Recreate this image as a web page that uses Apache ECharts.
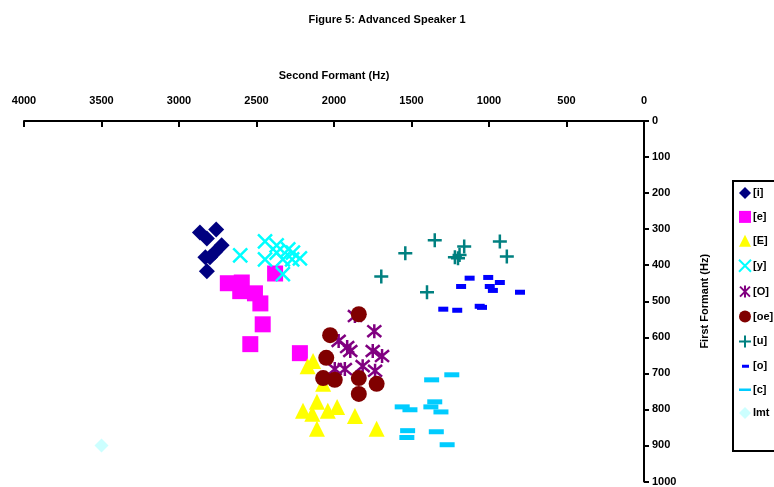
<!DOCTYPE html>
<html>
<head>
<meta charset="utf-8">
<script src="https://cdn.jsdelivr.net/npm/echarts@6/dist/echarts.min.js"></script>
<style>
  html, body { margin: 0; padding: 0; background: #fff; }
  #chart { width: 774px; height: 487px; }
</style>
</head>
<body>
<div id="chart"></div>
<script>
// Vowel formant measurements: [F2 (Hz), F1 (Hz)]
var vowelI  = [[2865,309],[2820,326],[2760,301],[2725,345],[2770,365],[2830,378],[2800,378],[2820,417]];
var vowelE  = [[2685,450],[2595,448],[2605,472],[2510,478],[2475,506],[2460,564],[2540,619],[2380,423],[2220,644]];
var vowelEps = [[2170,680],[2135,666],[2070,729],[2200,804],[2110,779],[2140,812],[2040,804],[1980,793],[1865,818],[2110,854],[1725,854]];
var vowelY  = [[2605,373],[2445,334],[2370,345],[2295,356],[2445,384],[2330,384],[2270,384],[2220,381],[2330,425],[2370,365],[2265,365]];
var vowelOpen = [[1865,541],[1740,583],[1970,610],[1915,627],[1895,638],[1750,638],[1690,652],[1995,688],[1930,688],[1815,680],[1735,693]];
var vowelOe = [[1840,536],[2025,594],[2050,657],[2070,713],[1995,718],[1840,713],[1725,729],[1840,757]];
var vowelU  = [[1350,331],[1540,367],[1160,348],[1220,378],[1200,381],[1190,372],[930,334],[885,376],[1695,431],[1400,475]];
var vowelO  = [[1125,436],[1005,434],[930,448],[995,459],[975,470],[800,475],[1180,459],[1295,522],[1205,525],[1060,514],[1045,517]];
var vowelC  = [[1370,718],[1240,704],[1560,793],[1510,801],[1350,779],[1375,793],[1310,807],[1525,859],[1530,878],[1340,862],[1270,898]];
var vowelImt = [[3500,900]];

var seriesNames = ['[i]','[e]','[E]','[y]','[O]','[oe]','[u]','[o]','[c]','Imt'];

var CROSS = 'path://M0,0 L10,10 M10,0 L0,10';
var STAR = 'path://M0,0 L10,10 M10,0 L0,10 M5,-1 L5,11';
var PLUS = 'path://M5,0 L5,10 M0,5 L10,5';
// legend icons for the dash markers: zero-area corner points keep the full icon box
var SHORT_DASH = 'path://M0,0 L0.01,0 Z M3,4.5 L10,4.5 L10,7.5 L3,7.5 Z M12,12 L11.99,12 Z';
var LONG_DASH = 'path://M0,0 L0.01,0 Z M-1,4.5 L13,4.5 L13,7.5 L-1,7.5 Z M12,12 L11.99,12 Z';

function pts(name, data, symbol, size, color, stroke) {
  var s = {
    name: name, type: 'scatter', data: data,
    symbol: symbol, symbolSize: size,
    itemStyle: { color: color, opacity: 1 }
  };
  if (stroke) {
    s.itemStyle = { color: color, borderColor: color, borderWidth: stroke, opacity: 1 };
  }
  return s;
}

var legendData = seriesNames.map(function (n) {
  if (n === '[o]') return { name: n, icon: SHORT_DASH };
  if (n === '[c]') return { name: n, icon: LONG_DASH };
  return { name: n };
});

var chart = echarts.init(document.getElementById('chart'), null, { renderer: 'canvas' });
var font = 'Arial, "Liberation Sans", sans-serif';

chart.setOption({
  animation: false,
  backgroundColor: '#ffffff',
  textStyle: { fontFamily: font },
  title: {
    text: 'Figure 5: Advanced Speaker 1',
    left: 'center', top: 9,
    textStyle: { fontSize: 11, fontWeight: 'bold', color: '#000', fontFamily: font }
  },
  grid: { left: 24, right: 130, top: 121, bottom: 4 },
  xAxis: {
    type: 'value', position: 'top', inverse: true,
    min: 0, max: 4000, interval: 500,
    name: 'Second Formant (Hz)', nameLocation: 'middle', nameGap: 40,
    nameTextStyle: { fontSize: 11, fontWeight: 'bold', color: '#000', fontFamily: font },
    axisLine: { show: true, lineStyle: { color: '#000', width: 2 } },
    axisTick: { show: true, inside: true, length: 6, lineStyle: { color: '#000', width: 2 } },
    axisLabel: { fontSize: 11, fontWeight: 'bold', color: '#000', margin: 15, fontFamily: font,
      formatter: function (v) { return String(v); } },
    splitLine: { show: false }
  },
  yAxis: {
    type: 'value', position: 'right', inverse: true,
    min: 0, max: 1000, interval: 100,
    name: 'First Formant (Hz)', nameLocation: 'middle', nameGap: 55, nameRotate: 90,
    nameTextStyle: { fontSize: 11, fontWeight: 'bold', color: '#000', fontFamily: font },
    axisLine: { show: true, lineStyle: { color: '#000', width: 2 } },
    axisTick: { show: true, length: 5, lineStyle: { color: '#000', width: 2 } },
    axisLabel: { fontSize: 11, fontWeight: 'bold', color: '#000', margin: 8, fontFamily: font,
      formatter: function (v) { return String(v); } },
    splitLine: { show: false }
  },
  legend: {
    orient: 'vertical', left: 733, top: 181,
    data: legendData,
    itemWidth: 12, itemHeight: 12, itemGap: 11.9,
    padding: [6, 6, 32, 5],
    borderColor: '#000', borderWidth: 2,
    textStyle: { fontSize: 11, fontWeight: 'bold', color: '#000', fontFamily: font, padding: [0, 0, 0, -3] }
  },
  series: [
    pts('[i]', vowelI, 'diamond', 16, '#000080'),
    pts('[e]', vowelE, 'rect', 16, '#ff00ff'),
    pts('[E]', vowelEps, 'triangle', 16, '#ffff00'),
    pts('[y]', vowelY, CROSS, 14, '#00ffff', 2.5),
    pts('[O]', vowelOpen, STAR, 14, '#800080', 2.5),
    pts('[oe]', vowelOe, 'circle', 16, '#800000'),
    pts('[u]', vowelU, PLUS, 14, '#008080', 2.5),
    pts('[o]', vowelO, 'rect', [10, 5], '#0000ff'),
    pts('[c]', vowelC, 'rect', [15, 5], '#00ccff'),
    pts('Imt', vowelImt, 'diamond', 14, '#ccffff')
  ]
});
</script>
</body>
</html>
